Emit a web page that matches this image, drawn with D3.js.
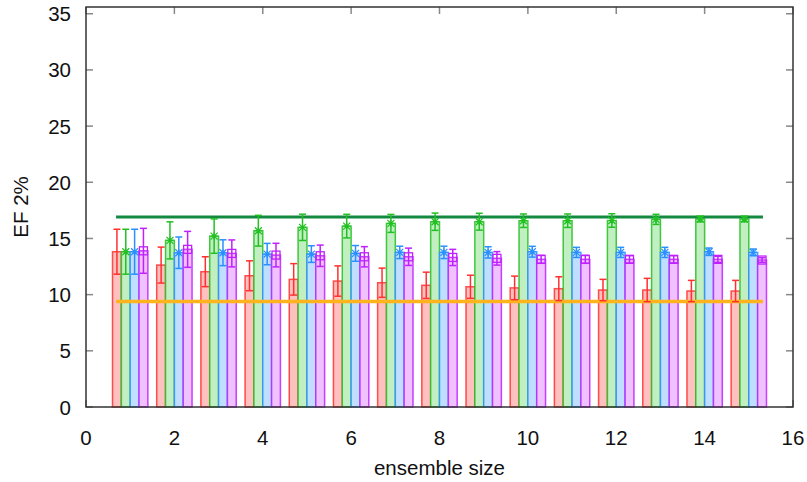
<!DOCTYPE html>
<html><head><meta charset="utf-8">
<script src="https://cdn.jsdelivr.net/npm/d3@7"></script>
<style>body{margin:0;background:#fff}svg{display:block}text{font-family:"Liberation Sans",Arial,sans-serif}</style>
</head><body><svg id="c" width="807" height="482"></svg>
<script>
const sizes = [1,2,3,4,5,6,7,8,9,10,11,12,13,14,15];
const redMean = [13.82,12.63,12.04,11.68,11.36,11.21,11.06,10.83,10.7,10.6,10.53,10.41,10.41,10.32,10.32];
const redErr  = [2.0,1.6,1.33,1.33,1.4,1.35,1.3,1.17,1.03,1.05,1.06,0.95,1.04,0.95,0.95];
const greenMean = [13.82,14.83,15.21,15.69,15.99,16.1,16.34,16.49,16.49,16.58,16.58,16.6,16.7,16.73,16.73];
const greenErr  = [2.0,1.65,1.53,1.37,1.17,1.05,0.8,0.77,0.75,0.6,0.6,0.6,0.45,0.25,0.25];
const blueMean = [13.82,13.73,13.73,13.61,13.61,13.67,13.76,13.76,13.76,13.82,13.76,13.76,13.76,13.82,13.76];
const blueErr  = [2.0,1.4,1.15,0.95,0.74,0.7,0.55,0.55,0.5,0.48,0.45,0.45,0.45,0.33,0.3];
const purpleMean = [13.9,14.03,13.67,13.52,13.46,13.37,13.37,13.31,13.23,13.14,13.14,13.14,13.14,13.14,13.08];
const purpleErr  = [2.0,1.6,1.2,1.05,0.95,0.9,0.77,0.72,0.6,0.35,0.35,0.33,0.32,0.27,0.2];
const refHigh = 16.9;
const refLow = 9.4;
const xTicks = [0,2,4,6,8,10,12,14,16];
const yTicks = [0,5,10,15,20,25,30,35];

const svg = d3.select("#c");
const L=86,R=793,T=7,B=407;
const FS = 20.5;
const x = d3.scaleLinear().domain([0,16]).range([L,R]);
const y = d3.scaleLinear().domain([0,35.6]).range([B,T]);

const series = [
  {mean:redMean, err:redErr, off:-0.3, stroke:"#ff3030", fill:"#ffc0c0", marker:null},
  {mean:greenMean, err:greenErr, off:-0.1, stroke:"#22c022", fill:"#c2efc2", marker:"star"},
  {mean:blueMean, err:blueErr, off:0.1, stroke:"#2a90ff", fill:"#c0deff", marker:"star"},
  {mean:purpleMean, err:purpleErr, off:0.3, stroke:"#c020ff", fill:"#efc2ff", marker:"square"}
];
const bw = 0.2;

const g = svg.append("g");
yTicks.forEach(v=>{
  g.append("line").attr("x1",L).attr("x2",L+7).attr("y1",y(v)).attr("y2",y(v)).attr("stroke","#888").attr("stroke-width",1.5);
  g.append("line").attr("x1",R).attr("x2",R-7).attr("y1",y(v)).attr("y2",y(v)).attr("stroke","#888").attr("stroke-width",1.5);
  svg.append("text").attr("x",L-15).attr("y",y(v)+7.5).attr("text-anchor","end").attr("font-size",FS).attr("fill","#111").text(v);
});
xTicks.forEach(v=>{
  g.append("line").attr("x1",x(v)).attr("x2",x(v)).attr("y1",T).attr("y2",T+7).attr("stroke","#888").attr("stroke-width",1.5);
  g.append("line").attr("x1",x(v)).attr("x2",x(v)).attr("y1",B).attr("y2",B-7).attr("stroke","#888").attr("stroke-width",1.5);
  svg.append("text").attr("x",x(v)).attr("y",445).attr("text-anchor","middle").attr("font-size",FS).attr("fill","#111").text(v);
});

series.forEach(s=>{
  svg.append("g").selectAll("rect").data(sizes).join("rect")
    .attr("x",(d)=>x(d+s.off-bw/2))
    .attr("width",(d)=>x(d+s.off+bw/2)-x(d+s.off-bw/2))
    .attr("y",(d,i)=>y(s.mean[i]))
    .attr("height",(d,i)=>y(0)-y(s.mean[i]))
    .attr("fill",s.fill).attr("stroke",s.stroke).attr("stroke-width",1.5).attr("stroke-opacity",0.85);
});

svg.append("line").attr("x1",x(0.68)).attr("x2",x(15.32)).attr("y1",y(refHigh)).attr("y2",y(refHigh)).attr("stroke","#138a40").attr("stroke-width",3);
svg.append("line").attr("x1",x(0.68)).attr("x2",x(15.32)).attr("y1",y(refLow)).attr("y2",y(refLow)).attr("stroke","#ffb41e").attr("stroke-width",3.5);

series.forEach(s=>{
  const eg = svg.append("g").attr("stroke",s.stroke).attr("stroke-width",1.5).attr("fill","none");
  sizes.forEach((d,i)=>{
    const cx = x(d+s.off);
    const y1 = y(s.mean[i]+s.err[i]), y2 = y(s.mean[i]-s.err[i]);
    eg.append("line").attr("x1",cx).attr("x2",cx).attr("y1",y1).attr("y2",y2);
    eg.append("line").attr("x1",cx-3.5).attr("x2",cx+3.5).attr("y1",y1).attr("y2",y1);
    eg.append("line").attr("x1",cx-3.5).attr("x2",cx+3.5).attr("y1",y2).attr("y2",y2);
    const cy = y(s.mean[i]);
    if(s.marker==="star"){
      const r=3.5;
      eg.append("path").attr("d",`M${cx-r},${cy}H${cx+r}M${cx},${cy-r}V${cy+r}M${cx-r},${cy-r}L${cx+r},${cy+r}M${cx-r},${cy+r}L${cx+r},${cy-r}`).attr("stroke-width",1.2);
    } else if(s.marker==="square"){
      eg.append("rect").attr("x",cx-4).attr("y",cy-4).attr("width",8).attr("height",8).attr("stroke-width",1.3);
    }
  });
});

svg.append("rect").attr("x",L).attr("y",T).attr("width",R-L).attr("height",B-T).attr("fill","none").attr("stroke","#333").attr("stroke-width",1.5);

svg.append("text").attr("x",(L+R)/2).attr("y",475).attr("text-anchor","middle").attr("font-size",FS).attr("fill","#111").text("ensemble size");
svg.append("text").attr("transform",`translate(28,${(T+B)/2}) rotate(-90)`).attr("text-anchor","middle").attr("font-size",FS).attr("fill","#111").text("EF 2%");
</script></body></html>
